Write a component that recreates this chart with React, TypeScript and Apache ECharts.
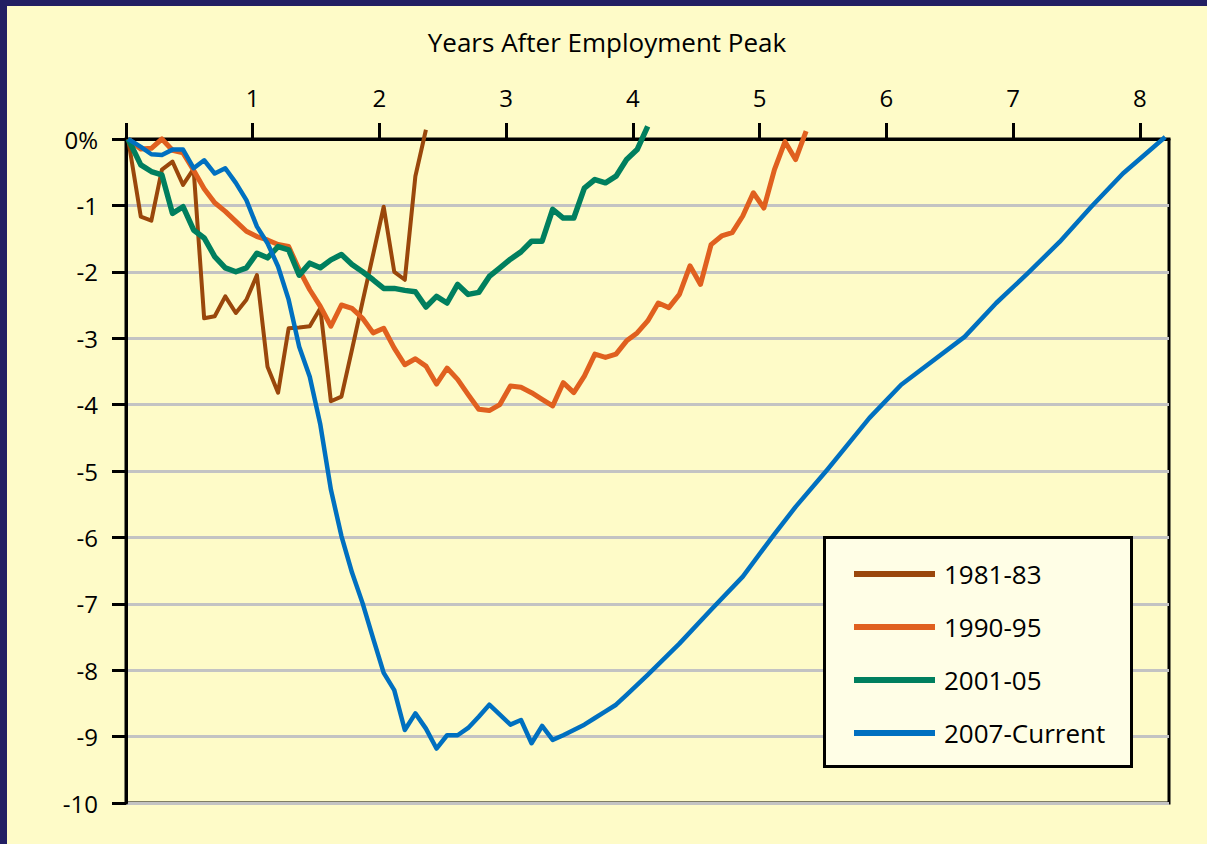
import React, { useEffect, useRef } from "react";
import * as echarts from "echarts";

// Monthly values, % change from employment peak
const brown8183 = [0, -1.17, -1.23, -0.46, -0.34, -0.69, -0.45, -2.7, -2.67, -2.37, -2.62, -2.42, -2.05, -3.43, -3.82, -2.85, -2.84, -2.82, -2.55, -3.95, -3.88, -3.17, -2.45, -1.74, -1.02, -2.0, -2.12, -0.56, 0.14];
const orange9095 = [0, -0.15, -0.14, 0.0, -0.17, -0.21, -0.47, -0.75, -0.96, -1.09, -1.24, -1.39, -1.47, -1.52, -1.59, -1.62, -1.97, -2.27, -2.52, -2.82, -2.5, -2.55, -2.7, -2.92, -2.85, -3.15, -3.4, -3.31, -3.42, -3.69, -3.45, -3.62, -3.85, -4.07, -4.09, -4.0, -3.72, -3.74, -3.82, -3.92, -4.02, -3.67, -3.82, -3.57, -3.24, -3.29, -3.24, -3.04, -2.92, -2.74, -2.47, -2.54, -2.34, -1.91, -2.19, -1.59, -1.46, -1.41, -1.16, -0.81, -1.04, -0.46, -0.04, -0.31, 0.12];
const green0105 = [0, -0.39, -0.49, -0.54, -1.12, -1.02, -1.37, -1.49, -1.77, -1.94, -2.0, -1.94, -1.72, -1.79, -1.62, -1.67, -2.05, -1.87, -1.94, -1.82, -1.74, -1.89, -2.0, -2.12, -2.25, -2.25, -2.28, -2.3, -2.53, -2.37, -2.47, -2.19, -2.34, -2.31, -2.07, -1.94, -1.81, -1.7, -1.54, -1.54, -1.06, -1.19, -1.19, -0.74, -0.61, -0.66, -0.56, -0.31, -0.16, 0.19];
const blue2007 = [0, -0.12, -0.23, -0.24, -0.16, -0.16, -0.44, -0.32, -0.52, -0.44, -0.66, -0.92, -1.32, -1.57, -1.92, -2.42, -3.13, -3.58, -4.3, -5.28, -5.98, -6.53, -6.99, -7.52, -8.04, -8.3, -8.9, -8.65, -8.88, -9.18, -8.98, -8.98, -8.87, -8.7, -8.52, -8.67, -8.82, -8.75, -9.1, -8.84, -9.05, -8.98, -8.9, -8.82, -8.72, -8.62, -8.52, -8.37, -8.22];
const blueTailMonths = [49, 52, 55, 58, 61, 63, 66, 70, 73, 79, 82, 85, 88, 91, 94, 98];
const blueTailValues = [-8.07, -7.6, -7.09, -6.59, -5.95, -5.54, -4.98, -4.2, -3.7, -2.98, -2.47, -2.02, -1.55, -1.02, -0.52, 0.03];

// month positions: peak month sits at the origin, later months read at m + 0.4
const PEAK_MONTH_POS = 0.2;
const MONTH_SHIFT = 0.4;

const seriesNames = ["1981-83", "1990-95", "2001-05", "2007-Current"];
const seriesColors = ["#9A470B", "#E0601F", "#007F5E", "#0070C0"];
const seriesWidths = [4, 5, 5.5, 4.5];
const xTicks = [0, 1, 2, 3, 4, 5, 6, 7, 8];
const xLabels = [1, 2, 3, 4, 5, 6, 7, 8];

const FONT = "'Open Sans', sans-serif";

function monthPos(m: number) {
  return (m === 0 ? PEAK_MONTH_POS : m + MONTH_SHIFT) / 12;
}
function monthly(vals: number[]) {
  return vals.map((v, i) => [monthPos(i), v]);
}

export default function App() {
  const ref = useRef<HTMLDivElement>(null);
  useEffect(() => {
    if (!ref.current) return;
    const chart = echarts.init(ref.current, null, { renderer: "svg" });
    const blueData = monthly(blue2007).concat(
      blueTailMonths.map((m, i) => [monthPos(m), blueTailValues[i]])
    );
    const datasets = [monthly(brown8183), monthly(orange9095), monthly(green0105), blueData];
    chart.setOption({
      animation: false,
      backgroundColor: "#FEFBC8",
      textStyle: { fontFamily: FONT },
      title: {
        text: "Years After Employment Peak",
        left: "center",
        top: 23,
        padding: 0,
        textStyle: { fontSize: 26, fontWeight: "normal", color: "#000", fontFamily: FONT },
      },
      grid: {
        left: 119,
        top: 133,
        width: 1043,
        height: 664,
        show: true,
        borderColor: "#000",
        borderWidth: 3,
        backgroundColor: "transparent",
      },
      xAxis: {
        type: "value",
        position: "top",
        min: 0,
        max: 8.23,
        interval: 1,
        axisLine: { show: true, lineStyle: { color: "#000", width: 3 } },
        axisTick: { show: true, length: 16, lineStyle: { color: "#000", width: 3 }, customValues: xTicks },
        axisLabel: {
          fontSize: 24,
          color: "#000",
          fontFamily: FONT,
          margin: 30,
          customValues: xLabels,
          formatter: (v: number) => (v > 0 && Math.abs(v - Math.round(v)) < 1e-6 ? String(Math.round(v)) : ""),
        },
        splitLine: { show: false },
      },
      yAxis: {
        type: "value",
        min: -10,
        max: 0,
        interval: 1,
        axisLine: { show: true, lineStyle: { color: "#000", width: 3 } },
        axisTick: { show: true, length: 14, lineStyle: { color: "#000", width: 3 } },
        axisLabel: {
          fontSize: 24,
          color: "#000",
          fontFamily: FONT,
          margin: 28,
          formatter: (v: number) => (v === 0 ? "0%" : String(v)),
        },
        splitLine: { show: true, lineStyle: { color: "#C3C3C3", width: 3 } },
      },
      graphic: [
        {
          type: "rect",
          left: 816,
          top: 530,
          z: 5,
          shape: { width: 307, height: 229 },
          style: { fill: "#FFFEE6", stroke: "#000", lineWidth: 3 },
        },
      ],
      legend: {
        orient: "vertical",
        left: 842,
        top: 550,
        z: 6,
        icon: "rect",
        itemWidth: 81,
        itemHeight: 6,
        itemGap: 27,
        data: seriesNames,
        textStyle: { fontSize: 26, lineHeight: 25, color: "#000", fontFamily: FONT, padding: [0, 0, 0, 4] },
      },
      series: seriesNames.map((name, i) => ({
        name,
        type: "line",
        data: datasets[i],
        symbol: "none",
        showSymbol: false,
        smooth: false,
        clip: false,
        color: seriesColors[i],
        lineStyle: { color: seriesColors[i], width: seriesWidths[i], join: "round" },
        z: 2 + i,
      })),
    });
    return () => chart.dispose();
  }, []);
  return (
    <div style={{ position: "fixed", left: 0, top: 0, width: 1207, height: 844, background: "#221F63" }}>
      <div ref={ref} style={{ position: "absolute", left: 7, top: 6, width: 1200, height: 838 }} />
    </div>
  );
}
